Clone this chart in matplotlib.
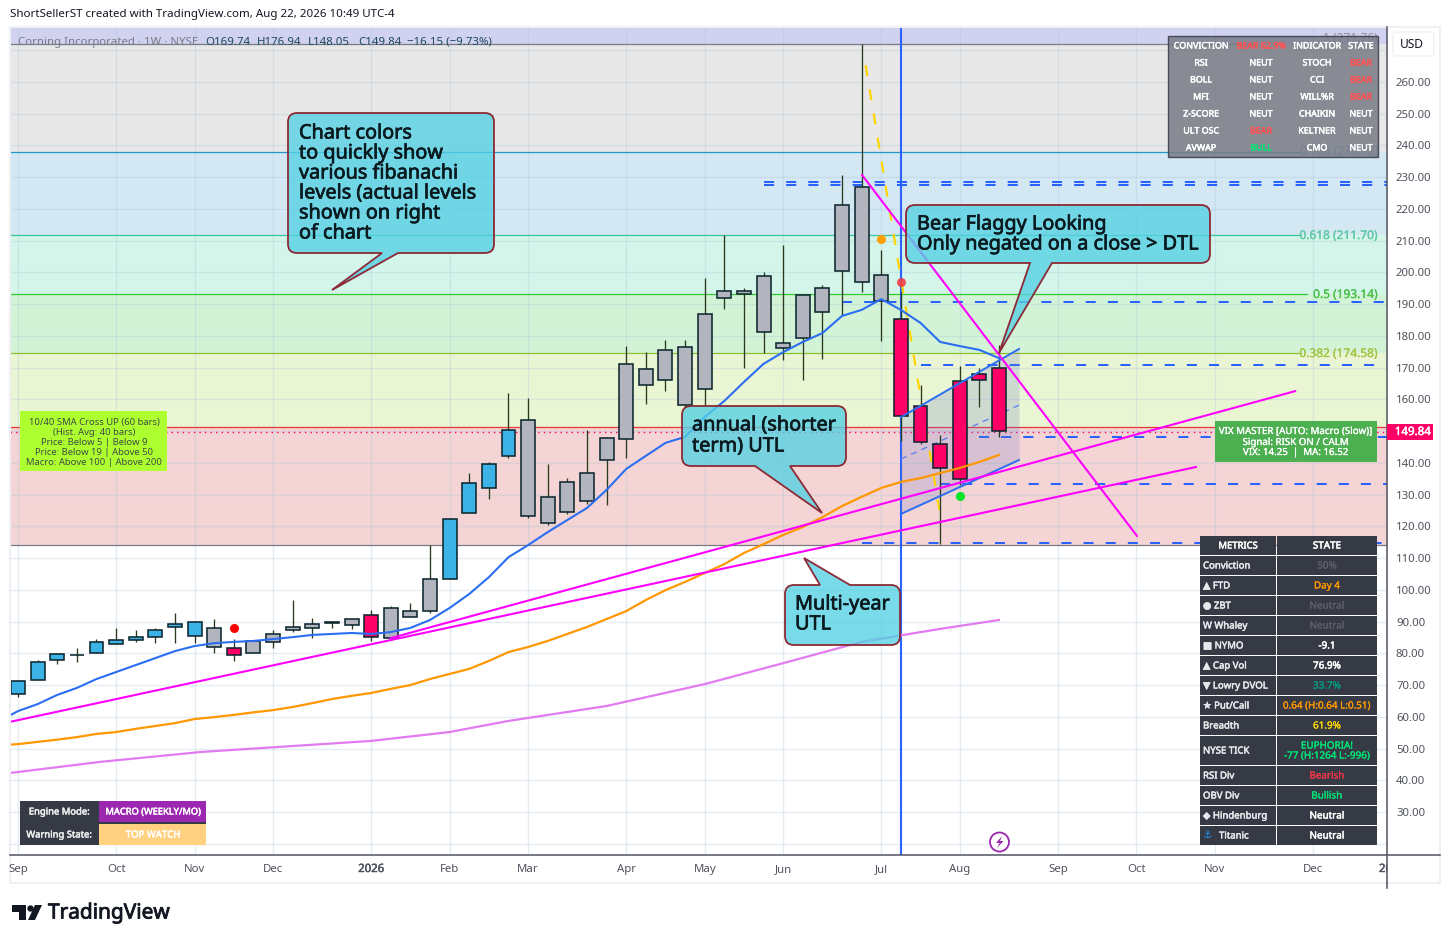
import matplotlib
matplotlib.use("Agg")
import matplotlib.pyplot as plt
from matplotlib.patches import Rectangle, PathPatch, FancyBboxPatch, Polygon, Circle
from matplotlib.path import Path
import matplotlib.patheffects as pe

plt.rcParams['font.family'] = ['Noto Sans', 'DejaVu Sans']

# ---------- data ----------
kind = list("bbbkbbbbbbgrggggggrggg"
            "bbbbgggggggggggggggggggr"
            "rrrrr")
body_top = [71.3,77.3,79.8,79.6,83.6,84.2,85.1,87.3,89.2,89.9,88.0,81.7,83.9,86.1,88.3,89.2,89.9,90.8,92.1,94.3,93.3,103.4,
            122.3,133.7,139.6,150.4,153.5,129.3,134.0,136.8,147.8,171.2,169.6,175.6,176.5,186.9,194.2,194.2,198.9,177.8,192.9,195.1,221.2,226.9,199.2,185.3,
            157.9,145.9,165.8,168.0,169.9]
body_bot = [67.2,71.6,77.9,79.5,80.1,82.9,84.2,85.1,88.3,85.5,82.0,79.5,80.1,83.6,87.3,88.0,89.6,88.9,85.1,84.8,91.4,93.3,
            103.4,124.2,132.1,142.2,123.3,121.1,124.5,128.0,140.9,147.5,164.5,166.1,158.2,163.3,191.9,193.2,181.2,176.2,179.3,187.5,200.5,197.0,191.0,154.8,
            146.6,138.4,134.9,166.1,150.0]
wick_hi = [71.6,77.9,80.1,81.7,84.5,88.0,87.3,88.0,92.7,89.9,90.8,84.5,84.2,87.3,96.8,91.1,90.2,90.8,93.6,94.9,95.9,114.1,
           122.6,136.8,140.3,162.0,160.4,139.6,135.2,150.4,148.2,176.8,174.9,178.7,178.7,198.2,211.8,195.1,200.1,208.6,192.9,196.0,230.7,272.0,207.1,193.8,
           164.5,148.8,170.5,169.9,177.1]
wick_lo = [66.2,71.6,76.6,77.3,80.1,82.9,83.6,83.2,83.2,83.2,80.1,77.6,80.1,81.7,86.7,84.8,88.0,87.7,83.9,84.5,91.4,92.7,
           103.4,124.2,128.6,141.5,122.6,120.4,123.9,127.0,126.7,141.5,158.6,162.6,157.6,158.2,188.5,169.9,174.6,172.4,166.1,172.7,186.6,193.8,178.4,146.9,
           145.9,114.4,133.0,157.6,148.2]

fast_ma = [58.5,61.8,64.0,66.9,69.1,71.9,74.1,76.3,78.5,80.7,82.3,83.2,83.6,83.9,84.5,85.1,85.8,86.1,86.4,86.1,86.7,88.0,90.5,
           94.3,98.7,104.0,110.3,114.1,118.2,122.0,125.8,131.5,138.1,142.2,146.3,148.2,154.5,159.5,165.5,171.2,174.9,178.1,180.9,
           186.3,188.2,191.6,188.2,184.1,178.1,176.8,175.6,173.0]
slow_ma = [51.0,51.4,52.1,52.8,53.6,54.6,55.2,56.2,57.1,58.0,59.3,59.9,60.6,61.4,62.1,63.1,64.3,65.6,66.6,67.5,68.8,70.0,71.9,
           73.5,75.1,77.6,80.4,82.0,83.9,86.1,88.3,90.8,93.3,96.8,99.9,102.5,105.3,108.1,111.6,114.4,117.3,119.8,122.9,
           126.4,129.3,132.1,134.0,135.2,136.8,138.4,140.3,142.5]
long_x = [-0.41,4.2,9.3,18,22,25,30,35,39,43,47,50]
long_ma = [42.3,45.8,48.9,52.4,55.2,58.7,63.4,70.3,76.9,83.6,87.7,90.5]

utl_a_x, utl_a_y = [19,65.09], [84.8,162.6]
utl_b_x, utl_b_y = [-0.41,60.04], [58.4,138.7]
dtl_x, dtl_y = [43.02,57.03], [230.7,117.0]
yel_x, yel_y = [43.2,47.0], [265.3,123.6]
ch_x = [45,51.02]
ch_up, ch_mid, ch_lo = [154.4,175.9], [141.2,158.2], [123.9,140.9]
event_x = 45

fib_levels = [272.0,238.1,211.8,193.2,174.6,151.3,114.1]
fib_colors = ['#787b86','#2196c9','#35c79a','#2ecc2e','#8fbe2e','#e53935','#787b86']
band_colors = ['#e8e8e8','#d4e8f4','#d3f5ea','#d3f3d6','#e9f5d3','#f4d4d4']
dash_start = [38,38,42,46,49,47,43]
dash_price = [228.5,227.5,190.7,170.8,148.2,133.3,114.8]

month_pos = [0,5,9,13,18,22,26,31,35,39,44,48,53,57,61,66]
month_lab = ['Sep','Oct','Nov','Dec','2026','Feb','Mar','Apr','May','Jun','Jul','Aug','Sep','Oct','Nov','Dec']
price_ticks = list(range(30,270,10))
last_close = 149.84

PX_PER_BAR = 19.62
fig = plt.figure(figsize=(14.49,9.43), dpi=100, facecolor='white')
W, H = 1449, 943
ax = fig.add_axes([10/W, 1-855/H, (1387-10)/W, (855-27)/H])
ax.set_xlim((10-18)/PX_PER_BAR, (1387-18)/PX_PER_BAR)
ax.set_ylim(260-(855-82)*0.31506, 260+(82-27)*0.31506)
ax.axis('off')
top = ax.get_ylim()[1]

# bands
ax.axhspan(fib_levels[0], top, color='#d1d1f0', lw=0, zorder=0)
for i, c in enumerate(band_colors):
    ax.axhspan(fib_levels[i+1], fib_levels[i], color=c, lw=0, zorder=0)
# grid
for p in range(20,280,10):
    ax.axhline(p, color='#a9c4dc', alpha=.3, lw=1.0, zorder=.5)
for m in month_pos:
    ax.axvline(m, color='#a9c4dc', alpha=.3, lw=1.0, zorder=.5)
# fib lines
ends = [63.0,65.4,65.4,65.7,65.4,69.8,69.8]
for lv, c, e in zip(fib_levels, fib_colors, ends):
    ax.plot([-0.41,e],[lv,lv], color=c, lw=.9, zorder=1)
ax.plot([-0.41,69.8],[last_close]*2, color='#ff0066', lw=1.0, ls=(0,(1,3)), zorder=1)

# blue dashed levels
for s, p in zip(dash_start, dash_price):
    ax.plot([s,69.8],[p,p], color='#2962ff', lw=1.45, ls=(0,(5,6)), zorder=2)
# event vline
ax.axvline(event_x, color='#2962ff', lw=1.5, zorder=2)
# channel
ax.fill_between(ch_x, ch_lo, ch_up, color='#6f79c8', alpha=.22, lw=0, zorder=2)
ax.plot(ch_x, ch_up, color='#2b6ef2', lw=1.4, zorder=4)
ax.plot(ch_x, ch_lo, color='#2b6ef2', lw=1.4, zorder=4)
ax.plot(ch_x, ch_mid, color='#5a7ef0', lw=.9, ls=(0,(5,4)), zorder=2.5)
# yellow dashed
ax.plot(yel_x, yel_y, color='#ffd400', lw=1.6, ls=(0,(5,6)), zorder=2.5)

# candles
face = {'b':'#3bb3e6','g':'#b2b5be','r':'#ff0066','k':'#b2b5be'}
for i,(t,b,h,l,k) in enumerate(zip(body_top,body_bot,wick_hi,wick_lo,kind)):
    ax.plot([i,i],[l,h], color='#2a3a1c', lw=.95, zorder=3, solid_capstyle='butt')
    ax.bar(i, t-b, bottom=b, width=.71, color=face[k], edgecolor='#0e2730', lw=1.15, zorder=3.2)

# MAs
ma_x = list(range(-1,51))
ax.plot(ma_x, slow_ma, color='#ff9800', lw=1.6, zorder=4)
ax.plot(long_x, long_ma, color='#e27bf0', lw=1.6, zorder=4)
ax.plot(utl_a_x, utl_a_y, color='#ff00ff', lw=1.5, zorder=4)
ax.plot(utl_b_x, utl_b_y, color='#ff00ff', lw=1.5, zorder=4)
ax.plot(dtl_x, dtl_y, color='#ff00ff', lw=1.5, zorder=4)
ax.plot(ma_x, fast_ma, color='#2b6ef2', lw=1.5, zorder=4.2)

# signal dots
ax.plot([11],[88.0], 'o', color='#ff0000', ms=6.5, mew=0, zorder=5)
ax.plot([44],[210.5], 'o', color='#ffa000', ms=6.5, mew=0, zorder=5)
ax.plot([45],[197.0], 'o', color='#f23645', ms=6.5, mew=0, zorder=5, alpha=.85)
ax.plot([48],[129.6], 'o', color='#00e626', ms=6.5, mew=0, zorder=5)

# ---------- overlay in pixel space ----------
ov = fig.add_axes([0,0,1,1], facecolor='none')
ov.set_xlim(0,W); ov.set_ylim(H,0); ov.axis('off')
def T(x,y,s,size=8.6,color='#131722',ha='left',va='center',stroke=0,**k):
    t = ov.text(x,y+1.5,s,fontsize=size,color=color,ha=ha,va=va,**k)
    if stroke:
        t.set_path_effects([pe.withStroke(linewidth=stroke,foreground=color)])
    return t
def R(x0,y0,x1,y1,c,alpha=1,z=6,ec='none',lw=0):
    ov.add_patch(Rectangle((x0,y0),x1-x0,y1-y0,facecolor=c,alpha=alpha,zorder=z,edgecolor=ec,lw=lw))
BOLD = .35

# frame
ov.add_patch(Rectangle((10,27),1430,856,fill=False,edgecolor='#eef0f3',lw=1.5,zorder=1))
ov.plot([10,1440],[855,855],color='#50535e',lw=1.1,zorder=2)
ov.plot([1387,1387],[27,888],color='#50535e',lw=1.1,zorder=2)

# header
T(10,13,'ShortSellerST created with TradingView.com, Aug 22, 2026 10:49 UTC-4',size=8.3,color='#131722')
T(18,41,'Corning Incorporated · 1W · NYSE',size=8.2,color='#787b86')
for x,s in zip([205,257,308,358,407],['O169.74','H176.94','L148.05','C149.84','−16.15 (−9.73%)']):
    T(x,41,s,size=8.25,color='#1f4b5c')

# fib labels
T(1378,234,'0.618 (211.70)',size=8.6,color='#5fc9a4',ha='right',stroke=.2)
T(1378,293,'0.5 (193.14)',size=8.6,color='#48c048',ha='right',stroke=.2)
T(1378,352,'0.382 (174.58)',size=8.6,color='#a3c444',ha='right',stroke=.2)
T(1378,150,'0.786 (238.12)',size=8.6,color='#5a9fc9',ha='right',zorder=1)
T(1378,37,'1 (271.76)',size=8.6,color='#8d90a0',ha='right',zorder=1)

# axis labels
for p in price_ticks:
    T(1396,82+(260-p)/0.31506,f'{p:.2f}',size=8.2,color='#50535e')
for m,l in zip(month_pos,month_lab):
    T(18+m*PX_PER_BAR,868,l,size=8.2,color='#50535e',ha='center',stroke=.35 if l=='2026' else 0)
clip = Rectangle((1300,860),87,20,transform=ov.transData)
t = T(1379,868,'2027',size=8.2,color='#50535e',stroke=.35,clip_on=True)
t.set_clip_path(clip)
# USD + price tag
ov.add_patch(FancyBboxPatch((1393,32),41,24,boxstyle='round,pad=0,rounding_size=3',facecolor='white',edgecolor='#eef0f3',lw=1,zorder=5))
T(1400,43,'USD',size=8.6,color='#131722',zorder=6)
R(1387,424,1433,440,'#ff0066',z=6)
T(1413,431,'149.84',size=8.3,color='white',ha='center',stroke=BOLD,zorder=7)

# left status box
R(20,411,167,471,'#adff2f')
for y,s in zip([421,431,441,451,461],['10/40 SMA Cross UP (60 bars)','(Hist. Avg: 40 bars)','Price: Below 5 | Below 9','Price: Below 19 | Above 50','Macro: Above 100 | Above 200']):
    T(94,y,s,size=6.8,color='#3f4a45',ha='center',zorder=7)
# VIX box
R(1215,421,1377,462,'#4caf50')
for y,s in zip([430,441,451],['VIX MASTER [AUTO: Macro (Slow)]','Signal: RISK ON / CALM','VIX: 14.25  |  MA: 16.52']):
    T(1296,y,s,size=7.0,color='white',ha='center',zorder=7,stroke=.2)

# top-right table
R(1168,36,1378,157,'#787b86',alpha=.85,z=6,ec='#363a45',lw=1)
rows = [('CONVICTION','BEAR 62.9%','INDICATOR','STATE'),('RSI','NEUT','STOCH','BEAR'),('BOLL','NEUT','CCI','BEAR'),
        ('MFI','NEUT','WILL%R','BEAR'),('Z-SCORE','NEUT','CHAIKIN','NEUT'),('ULT OSC','BEAR','KELTNER','NEUT'),('AVWAP','BULL','CMO','NEUT')]
col_c = {'BEAR':'#ff5252','BEAR 62.9%':'#ff5252','BULL':'#00e676','NEUT':'#ffffff'}
for r,row in enumerate(rows):
    y = 44.5+17*r
    for x,s in zip([1201,1261,1317,1361],row):
        T(x,y,s,size=6.4,color=col_c.get(s,'#ffffff'),ha='center',stroke=BOLD,zorder=7)

# metrics table
metrics = [('METRICS','STATE','#fff'),('Conviction','50%','#5d606b'),('▲ FTD','Day 4','#ff9800'),('● ZBT','Neutral','#5d606b'),
           ('W Whaley','Neutral','#5d606b'),('■ NYMO','-9.1','#ffffff'),('▲ Cap Vol','76.9%','#ffffff'),('▼ Lowry DVOL','33.7%','#089981'),
           ('★ Put/Call','0.64 (H:0.64 L:0.51)','#ff9800'),('Breadth','61.9%','#ffd600'),('NYSE TICK','EUPHORIA!\n-77 (H:1264 L:-996)','#00e676'),
           ('RSI Div','Bearish','#f23645'),('OBV Div','Bullish','#00e676'),('◆ Hindenburg','Neutral','#ffffff'),('Titanic','Neutral','#ffffff')]
y = 536
for name,val,c in metrics:
    h = 30 if name=='NYSE TICK' else 20
    R(1200,y,1276,y+h-1,'#363a45'); R(1277,y,1377,y+h-1,'#363a45')
    cy = y+(h-1)/2-1
    if name=='METRICS':
        T(1238,cy,name,size=6.8,color='white',ha='center',stroke=BOLD,zorder=7)
    elif name=='Titanic':
        T(1203,cy,'⚓',size=7.5,color='#2196f3',zorder=7)
        T(1219,cy,name,size=6.9,color='#e8e9ec',stroke=BOLD,zorder=7)
    else:
        T(1203,cy,name,size=6.9,color='#e8e9ec',stroke=BOLD,zorder=7)
    if '\n' in val:
        a,b = val.split('\n')
        T(1327,cy-5,a,size=7.1,color=c,ha='center',stroke=.2,zorder=7)
        T(1327,cy+5,b,size=7.1,color=c,ha='center',stroke=.2,zorder=7)
    else:
        T(1327,cy,val,size=7.1,color=c,ha='center',zorder=7,stroke=BOLD if c in ('#ffffff','#fff') else .2)
    y += h

# engine table
R(20,801,99,845,'#363a45'); R(99,801,206,822,'#9c27b0'); R(99,822,206,824,'#363a45'); R(99,824,206,845,'#ffd180')
T(59,810.5,'Engine Mode:',size=6.8,color='#eeeeee',ha='center',stroke=BOLD,zorder=7)
T(59,833.5,'Warning State:',size=6.8,color='#eeeeee',ha='center',stroke=BOLD,zorder=7)
T(153,810.5,'MACRO (WEEKLY/MO)',size=6.7,color='white',ha='center',stroke=BOLD,zorder=7)
T(153,833.5,'TOP WATCH',size=6.9,color='white',ha='center',stroke=BOLD,zorder=7)

# lightning
ov.add_patch(Circle((999.5,842),9.5,facecolor='white',edgecolor='#9c27b0',lw=1.3,zorder=5))
ov.add_patch(Polygon([(1002,836),(996,843),(999.5,843),(997,848),(1003.5,841),(1000,841)],closed=True,color='#9c27b0',lw=0,zorder=6))

# callouts
def callout(x0,y0,x1,y1,side,a,b,tip,r=9):
    v=[(x0+r,y0)];c=[Path.MOVETO]
    if side=='top':
        v+=[(a,y0),tip,(b,y0)];c+=[Path.LINETO]*3
    v+=[(x1-r,y0),(x1,y0),(x1,y0+r),(x1,y1-r),(x1,y1),(x1-r,y1)]
    c+=[Path.LINETO,Path.CURVE3,Path.CURVE3,Path.LINETO,Path.CURVE3,Path.CURVE3]
    if side=='bottom':
        v+=[(b,y1),tip,(a,y1)];c+=[Path.LINETO]*3
    v+=[(x0+r,y1),(x0,y1),(x0,y1-r),(x0,y0+r),(x0,y0),(x0+r,y0),(x0+r,y0)]
    c+=[Path.LINETO,Path.CURVE3,Path.CURVE3,Path.LINETO,Path.CURVE3,Path.CURVE3,Path.CLOSEPOLY]
    ov.add_patch(PathPatch(Path(v,c),facecolor=(0.33,0.82,0.89,.78),edgecolor='#8c2a35',lw=1.3,zorder=5))
def lines(x,ys,ss):
    for yy,s in zip(ys,ss):
        T(x,yy,s,size=14.3,color='#0b1a1f',zorder=6,stroke=.5)
callout(288,113,494,253,'bottom',382,398,(332,290))
lines(299,[132,152,172,192,212,232],['Chart colors','to quickly show','various fibanachi','levels (actual levels','shown on right','of chart'])
callout(906,205,1210,263,'bottom',1030,1052,(999,353))
lines(917,[223,243],['Bear Flaggy Looking','Only negated on a close > DTL'])
callout(682,406,846,466,'bottom',755,790,(822,513))
lines(692,[424,445],['annual (shorter','term) UTL'])
callout(785,585,900,645,'top',820,850,(804,558))
lines(795,[603,623],['Multi-year','UTL'])

# logo
ov.add_patch(Polygon([(12,905),(26,905),(26,920),(19,920),(19,912),(12,912)],closed=True,color='#131722',lw=0))
ov.add_patch(Circle((30.5,908.5),3.2,color='#131722',lw=0))
ov.add_patch(Polygon([(35,905),(42,905),(35,920),(28,920)],closed=True,color='#131722',lw=0))
T(48,911.5,'TradingView',size=15.0,color='#131722',stroke=.6)

fig.savefig('out.png',dpi=100,facecolor='white')
